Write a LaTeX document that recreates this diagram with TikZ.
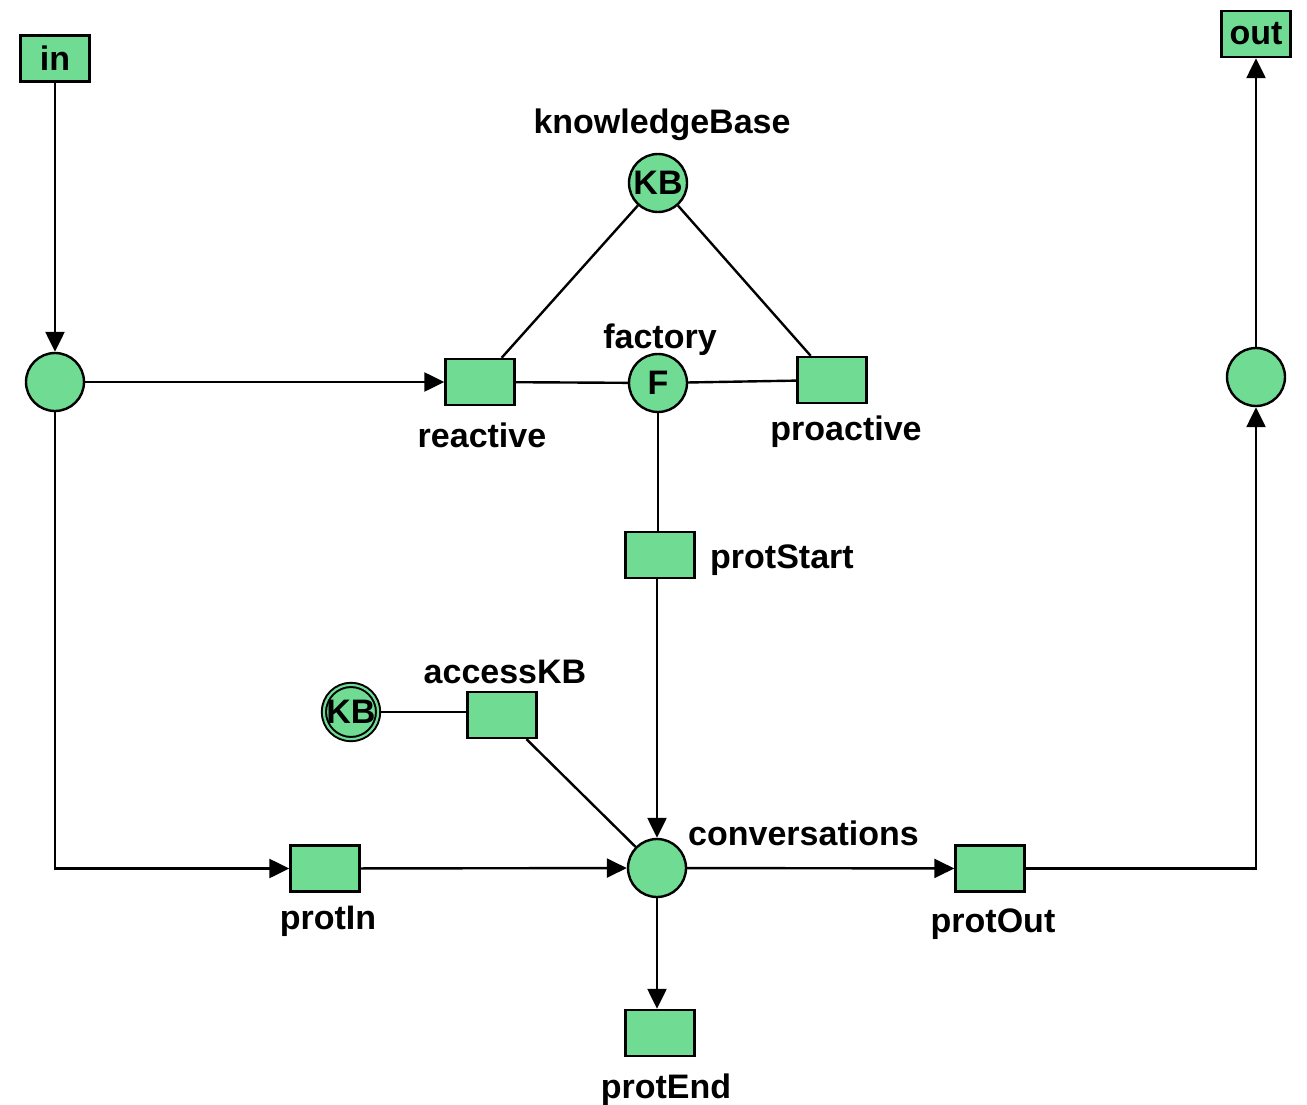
\documentclass[tikz,border=0pt]{standalone}
\usepackage{fontspec}
\setmainfont{Liberation Sans}
\usetikzlibrary{arrows.meta}
\definecolor{petri}{HTML}{70DB93}
\begin{document}
\begin{tikzpicture}[x=1pt,y=-1pt,
  every node/.style={font=\fontsize{34}{40}\selectfont\bfseries},
  place/.style={circle,draw=black,fill=petri,line width=2.4pt,minimum size=58pt,inner sep=0pt},
  trans/.style={rectangle,draw=black,fill=petri,line width=2.4pt,minimum width=69pt,minimum height=46pt,inner sep=0pt},
  lbl/.style={inner sep=0pt},
  arc/.style={line width=2.4pt,draw=black},
  flow/.style={arc,-{Triangle[length=20pt,width=19pt]}}]
\useasboundingbox (0,0) rectangle (1307,1105);

% places
\node[place] (pin) at (55,382) {};
\node[place] (kb) at (658,183) {KB};
\node[place] (fac) at (658,383) {F};
\node[place] (conv) at (657,868) {};
\node[place] (pout) at (1256,377) {};
\node[place,double=petri,double distance=2.2pt,line width=2pt,minimum size=54pt] (kb2) at (351,712) {KB};

% transitions
\node[trans] (in) at (55,58.5) {\raisebox{-2pt}{in}};
\node[trans] (out) at (1256,34) {\raisebox{-2pt}{out}};
\node[trans] (reac) at (480,382) {};
\node[trans] (proa) at (832,380) {};
\node[trans] (pstart) at (660,555) {};
\node[trans] (acc) at (502,715) {};
\node[trans] (pin2) at (325,868.5) {};
\node[trans] (pout2) at (990,868.5) {};
\node[trans] (pend) at (660,1033) {};

% labels
\node[lbl] (lkb) at (662,125) {knowledgeBase};
\node[lbl] (lfac) at (660,340) {factory};
\node[lbl] (lreac) at (482,435) {reactive};
\node[lbl] (lproa) at (846,432) {proactive};
\node[lbl,anchor=west] (lps) at (710,560) {protStart};
\node[lbl] (lacc) at (505,672) {accessKB};
\node[lbl,anchor=west] (lconv) at (688,833) {conversations};
\node[lbl] (lpin) at (328,921) {protIn};
\node[lbl] (lpout) at (993,924) {protOut};
\node[lbl] (lpend) at (666,1090) {protEnd};

% arcs
\draw[flow] (in) -- (pin);
\draw[flow] (pin) -- (reac);
\draw[flow] (pin.south) |- (pin2.west);
\draw[flow] (pin2) -- (conv);
\draw[arc] (reac) -- (fac);
\draw[arc] (fac) -- (proa);
\draw[arc] (kb) -- (reac);
\draw[arc] (kb) -- (proa);
\draw[arc] (fac) -- (fac |- pstart.north);
\draw[flow] (pstart.south -| conv) -- (conv);
\draw[arc] (kb2) -- (kb2 -| acc.west);
\draw[arc] (acc) -- (conv);
\draw[flow] (conv) -- (pout2);
\draw[flow] (conv) -- (conv |- pend.north);
\draw[flow] (pout2.east) -| (pout.south);
\draw[flow] (pout) -- (out);
\end{tikzpicture}
\end{document}
